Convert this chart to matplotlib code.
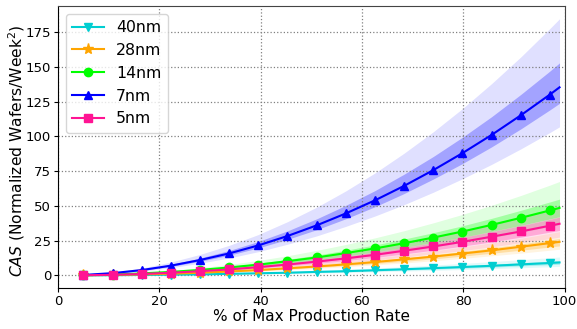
import matplotlib
matplotlib.use("Agg")
import matplotlib.pyplot as plt

# % of max production rate (markers on all but the last point)
rate = [5.0, 10.8, 16.5, 22.3, 28.0, 33.8, 39.5, 45.3, 51.1, 56.8,
        62.6, 68.3, 74.1, 79.8, 85.6, 91.4, 97.1, 99.0]

nodes = ["40nm", "28nm", "14nm", "7nm", "5nm"]

cas_40 = [0.0, 0.1, 0.3, 0.5, 0.7, 1.1, 1.5, 1.9, 2.5, 3.0, 3.7, 4.4, 5.2, 6.0, 6.9, 7.9, 8.9, 9.3]
cas_40_hi2 = [0.0, 0.2, 0.4, 0.7, 1.1, 1.5, 2.1, 2.8, 3.5, 4.4, 5.3, 6.3, 7.4, 8.6, 9.9, 11.3, 12.7, 13.2]
cas_40_hi1 = [0.0, 0.1, 0.3, 0.5, 0.9, 1.2, 1.7, 2.2, 2.8, 3.5, 4.3, 5.1, 6.0, 6.9, 8.0, 9.1, 10.2, 10.6]
cas_40_lo1 = [0.0, 0.1, 0.2, 0.4, 0.6, 0.9, 1.3, 1.7, 2.1, 2.6, 3.2, 3.8, 4.5, 5.2, 5.9, 6.8, 7.7, 8.0]
cas_40_lo2 = [0.0, 0.1, 0.2, 0.3, 0.5, 0.8, 1.0, 1.4, 1.7, 2.1, 2.6, 3.1, 3.6, 4.2, 4.8, 5.5, 6.2, 6.5]

cas_28 = [0.1, 0.3, 0.7, 1.2, 1.9, 2.8, 3.8, 5.1, 6.4, 7.9, 9.6, 11.5, 13.5, 15.7, 18.0, 20.6, 23.2, 24.1]
cas_28_hi2 = [0.1, 0.4, 0.9, 1.6, 2.5, 3.7, 5.0, 6.6, 8.4, 10.3, 12.5, 14.9, 17.6, 20.4, 23.4, 26.7, 30.2, 31.4]
cas_28_hi1 = [0.1, 0.3, 0.7, 1.3, 2.1, 3.1, 4.2, 5.6, 7.1, 8.7, 10.6, 12.6, 14.9, 17.2, 19.8, 22.6, 25.5, 26.5]
cas_28_lo1 = [0.1, 0.3, 0.6, 1.1, 1.7, 2.5, 3.4, 4.4, 5.7, 7.0, 8.5, 10.1, 11.9, 13.8, 15.9, 18.1, 20.4, 21.2]
cas_28_lo2 = [0.0, 0.2, 0.5, 0.9, 1.5, 2.2, 3.0, 3.9, 5.0, 6.2, 7.5, 8.9, 10.5, 12.2, 14.1, 16.0, 18.1, 18.8]

cas_14 = [0.1, 0.6, 1.4, 2.5, 3.9, 5.7, 7.7, 10.2, 12.9, 16.0, 19.4, 23.1, 27.2, 31.5, 36.3, 41.4, 46.7, 48.5]
cas_14_hi2 = [0.2, 0.8, 1.9, 3.4, 5.4, 7.9, 10.7, 14.1, 18.0, 22.2, 27.0, 32.1, 37.8, 43.8, 50.4, 57.5, 64.9, 67.5]
cas_14_hi1 = [0.1, 0.7, 1.5, 2.8, 4.4, 6.4, 8.7, 11.5, 14.6, 18.1, 21.9, 26.1, 30.7, 35.6, 41.0, 46.8, 52.8, 54.8]
cas_14_lo1 = [0.1, 0.5, 1.2, 2.2, 3.4, 5.0, 6.7, 8.9, 11.2, 13.9, 16.9, 20.1, 23.7, 27.4, 31.6, 36.0, 40.6, 42.2]
cas_14_lo2 = [0.1, 0.4, 1.0, 1.8, 2.9, 4.3, 5.8, 7.6, 9.7, 12.0, 14.6, 17.3, 20.4, 23.6, 27.2, 31.0, 35.0, 36.4]

cas_7 = [0.3, 1.6, 3.8, 7.0, 11.0, 15.8, 21.5, 28.3, 36.0, 44.5, 54.0, 64.3, 75.7, 87.8, 101.0, 115.2, 130.0, 135.2]
cas_7_hi2 = [0.5, 2.2, 5.2, 9.6, 15.0, 21.6, 29.3, 38.6, 49.1, 60.7, 73.7, 87.8, 103.3, 119.8, 137.9, 157.2, 177.5, 184.5]
cas_7_hi1 = [0.4, 1.8, 4.3, 7.9, 12.4, 17.9, 24.3, 32.0, 40.7, 50.3, 61.0, 72.7, 85.5, 99.2, 114.1, 130.2, 146.9, 152.8]
cas_7_lo1 = [0.3, 1.5, 3.5, 6.4, 10.1, 14.5, 19.7, 25.9, 32.9, 40.7, 49.4, 58.8, 69.3, 80.3, 92.4, 105.4, 119.0, 123.7]
cas_7_lo2 = [0.2, 1.3, 3.0, 5.5, 8.7, 12.5, 17.0, 22.4, 28.4, 35.2, 42.7, 50.8, 59.8, 69.4, 79.8, 91.0, 102.7, 106.8]

cas_5 = [0.1, 0.4, 1.0, 1.9, 3.0, 4.3, 5.9, 7.8, 9.9, 12.2, 14.8, 17.7, 20.8, 24.1, 27.8, 31.6, 35.7, 37.1]
cas_5_hi2 = [0.1, 0.6, 1.4, 2.5, 4.0, 5.8, 7.9, 10.3, 13.2, 16.3, 19.7, 23.5, 27.7, 32.1, 36.9, 42.1, 47.5, 49.4]
cas_5_hi1 = [0.1, 0.5, 1.2, 2.1, 3.4, 4.9, 6.7, 8.8, 11.2, 13.8, 16.8, 20.0, 23.5, 27.3, 31.4, 35.8, 40.3, 41.9]
cas_5_lo1 = [0.1, 0.4, 0.9, 1.6, 2.6, 3.8, 5.1, 6.8, 8.6, 10.6, 12.9, 15.4, 18.1, 21.0, 24.1, 27.5, 31.1, 32.3]
cas_5_lo2 = [0.1, 0.3, 0.8, 1.4, 2.2, 3.2, 4.4, 5.8, 7.3, 9.0, 11.0, 13.1, 15.4, 17.8, 20.5, 23.4, 26.4, 27.5]

series = {
    "40nm": (cas_40, cas_40_lo2, cas_40_lo1, cas_40_hi1, cas_40_hi2),
    "28nm": (cas_28, cas_28_lo2, cas_28_lo1, cas_28_hi1, cas_28_hi2),
    "14nm": (cas_14, cas_14_lo2, cas_14_lo1, cas_14_hi1, cas_14_hi2),
    "7nm": (cas_7, cas_7_lo2, cas_7_lo1, cas_7_hi1, cas_7_hi2),
    "5nm": (cas_5, cas_5_lo2, cas_5_lo1, cas_5_hi1, cas_5_hi2),
}
colors = {"40nm": "#00CED1", "28nm": "#FFA500", "14nm": "#00FF00",
          "7nm": "#0000FF", "5nm": "#FF1493"}
markers = {"40nm": "v", "28nm": "*", "14nm": "o", "7nm": "^", "5nm": "s"}

fig = plt.figure(figsize=(5.77, 3.29), dpi=100)
ax = fig.add_axes([0.1005, 0.124, 0.878, 0.858])

for name in nodes:
    mean, lo2, lo1, hi1, hi2 = series[name]
    c = colors[name]
    ax.fill_between(rate, lo2, hi2, color=c, alpha=0.12, linewidth=0)
    ax.fill_between(rate, lo1, hi1, color=c, alpha=0.27, linewidth=0)
    ax.plot(rate, mean, color=c, marker=markers[name], markersize=8 if name == "28nm" else 6,
            linewidth=1.5, markevery=slice(0, -1), label=name)

ax.set_xlim(0, 100)
ax.set_xticks([0, 20, 40, 60, 80, 100])
ax.set_yticks([0, 25, 50, 75, 100, 125, 150, 175])
ax.tick_params(labelsize=9.5, length=3, pad=2)
ax.grid(True, linestyle=":", color="gray", linewidth=0.9)
for side in ["top", "right"]:
    ax.spines[side].set_color("#444444")
ax.set_xlabel("% of Max Production Rate", fontsize=11, labelpad=0.5)
ax.set_ylabel("$CAS$ (Normalized Wafers/Week$^2$)", fontsize=11.2)
ax.yaxis.set_label_coords(-0.062, 0.486)
ax.legend(loc="upper left", fontsize=11.3)

fig.savefig("out.png", dpi=100)
